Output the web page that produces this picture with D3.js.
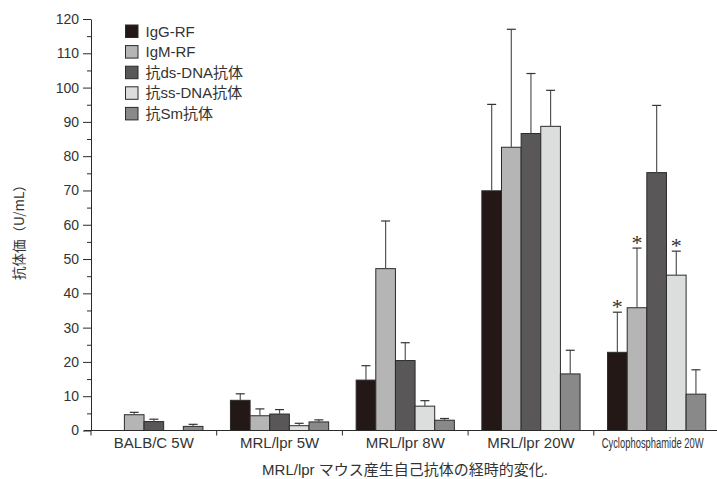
<!DOCTYPE html>
<html>
<head>
<meta charset="utf-8">
<script src="https://cdn.jsdelivr.net/npm/d3@7"></script>
<style>
  html, body { margin: 0; padding: 0; background: #fff; }
  svg { display: block; font-family: "Liberation Sans", Arial, "Noto Sans CJK JP", sans-serif; }
</style>
</head>
<body>
<svg id="chart" width="717" height="479"></svg>
<script>
// ---- data ----
const groups = ["BALB/C 5W", "MRL/lpr 5W", "MRL/lpr 8W", "MRL/lpr 20W", "Cyclophosphamide 20W"];
const series = ["IgG-RF", "IgM-RF", "抗ds-DNA抗体", "抗ss-DNA抗体", "抗Sm抗体"];
const igGRF   = [0,   8.8, 14.7, 69.9, 22.8];
const igGErr  = [0,   1.9,  4.2, 25.2, 11.7];
const igMRF   = [4.6, 4.3, 47.2, 82.6, 35.8];
const igMErr  = [0.7, 2.0, 13.9, 34.4, 17.4];
const dsDNA   = [2.6, 4.8, 20.4, 86.6, 75.2];
const dsErr   = [0.7, 1.3,  5.2, 17.5, 19.6];
const ssDNA   = [0,   1.4,  7.1, 88.7, 45.3];
const ssErr   = [0,   0.7,  1.6, 10.5,  7.0];
const smAb    = [1.2, 2.5,  3.0, 16.5, 10.6];
const smErr   = [0.6, 0.6,  0.5,  6.9,  7.1];
const yTicks  = [0, 10, 20, 30, 40, 50, 60, 70, 80, 90, 100, 110, 120];
// significance marks: [group index, series index]
const stars   = [[4, 0], [4, 1], [4, 3]];
const yLabel  = "抗体価（U/mL）";
const xTitle  = "MRL/lpr マウス産生自己抗体の経時的変化.";

const values = [igGRF, igMRF, dsDNA, ssDNA, smAb];
const errors = [igGErr, igMErr, dsErr, ssErr, smErr];
const colors = ["#231815", "#b5b5b6", "#595757", "#dcdddd", "#898989"];

const rows = [];
groups.forEach((g, gi) => series.forEach((s, si) => {
  rows.push({ g, gi, s, si, v: values[si][gi], e: errors[si][gi] });
}));

// ---- layout ----
const svg = d3.select("#chart");
svg.append("rect").attr("width", 717).attr("height", 479).attr("fill", "#fff");

const mLeft = 91, mRight = 719.5, mTop = 19, mBottom = 430.5;
const x0 = d3.scaleBand().domain(groups).range([mLeft, mRight]).padding(0);
const x1 = d3.scaleBand().domain(series).range([0, x0.bandwidth()]).paddingInner(0).paddingOuter(0.7);
const y = d3.scaleLinear().domain([0, 120]).range([mBottom, mTop]);

const ink = "#2b2b2b";

// bars
const gb = svg.append("g");
gb.selectAll("rect.bar").data(rows.filter(d => d.v > 0)).join("rect")
  .attr("class", "bar")
  .attr("x", d => x0(d.g) + x1(d.s))
  .attr("y", d => y(d.v))
  .attr("width", x1.bandwidth())
  .attr("height", d => y(0) - y(d.v))
  .attr("fill", d => colors[d.si])
  .attr("stroke", ink)
  .attr("stroke-width", 1);

// error bars
const eb = rows.filter(d => d.e > 0);
const cx = d => x0(d.g) + x1(d.s) + x1.bandwidth() / 2;
gb.selectAll("line.stem").data(eb).join("line")
  .attr("class", "stem")
  .attr("x1", cx).attr("x2", cx)
  .attr("y1", d => y(d.v)).attr("y2", d => y(d.v + d.e))
  .attr("stroke", "#555").attr("stroke-width", 1.2);
gb.selectAll("line.cap").data(eb).join("line")
  .attr("class", "cap")
  .attr("x1", d => cx(d) - 4.5).attr("x2", d => cx(d) + 4.5)
  .attr("y1", d => y(d.v + d.e)).attr("y2", d => y(d.v + d.e))
  .attr("stroke", "#333").attr("stroke-width", 1.2);

// asterisks
gb.selectAll("text.star").data(stars.map(([gi, si]) => rows.find(r => r.gi === gi && r.si === si))).join("text")
  .attr("class", "star")
  .attr("x", cx)
  .attr("y", d => y(d.v + d.e) + 2)
  .attr("text-anchor", "middle")
  .attr("font-family", "'Liberation Serif', serif")
  .attr("font-size", 22)
  .attr("fill", "#333")
  .text("*");

// y axis
const yAxis = d3.axisLeft(y).tickValues(yTicks).tickSize(8).tickSizeOuter(0).tickPadding(4);
const ya = svg.append("g").attr("transform", `translate(${mLeft},0)`).call(yAxis);
ya.select(".domain").attr("stroke", ink);
ya.selectAll(".tick line").attr("stroke", ink);
ya.selectAll(".tick text").attr("font-size", 14).attr("fill", "#333")
  .attr("font-family", "'Liberation Sans', Arial, sans-serif");
// minor ticks
const minor = d3.range(5, 120, 10);
const ym = svg.append("g").attr("transform", `translate(${mLeft},0)`)
  .call(d3.axisLeft(y).tickValues(minor).tickSize(4).tickFormat(""));
ym.select(".domain").remove();
ym.selectAll(".tick line").attr("stroke", ink);

// x axis
svg.append("line").attr("x1", mLeft - 7).attr("x2", 717).attr("y1", y(0)).attr("y2", y(0))
  .attr("stroke", ink).attr("stroke-width", 1);
svg.selectAll("line.xb").data(groups).join("line")
  .attr("class", "xb")
  .attr("x1", d => x0(d)).attr("x2", d => x0(d))
  .attr("y1", y(0)).attr("y2", y(0) + 5)
  .attr("stroke", ink);
const xa = svg.append("g").attr("transform", `translate(0,${y(0)})`)
  .call(d3.axisBottom(x0).tickSize(0).tickPadding(7));
xa.select(".domain").remove();
xa.selectAll(".tick text").attr("font-size", 15).attr("fill", "#333")
  .attr("font-family", "'Liberation Sans', Arial, sans-serif");
// condensed last label
xa.selectAll(".tick text").filter(d => d === "Cyclophosphamide 20W")
  .attr("font-size", 14.5)
  .each(function () {
    const t = d3.select(this);
    const w = this.getComputedTextLength();
    const k = 102 / w;
    const yy = +t.attr("y");
    t.attr("x", 0).attr("y", 0)
     .attr("dy", "0.71em")
     .attr("transform", `translate(-4,${yy}) scale(${k},1)`);
  });

// y label
svg.append("text")
  .attr("transform", "translate(24,229) rotate(-90)")
  .attr("text-anchor", "middle")
  .attr("font-size", 13.5)
  .attr("fill", "#333")
  .attr("font-family", "'Noto Sans CJK JP', sans-serif")
  .text(yLabel);

// x title
svg.append("text")
  .attr("x", 405).attr("y", 475)
  .attr("text-anchor", "middle")
  .attr("font-size", 15)
  .attr("fill", "#333")
  .attr("font-family", "'Liberation Sans', 'Noto Sans CJK JP', sans-serif")
  .text(xTitle);

// legend
const lg = svg.append("g").attr("transform", "translate(125.5,25)");
const li = lg.selectAll("g").data(series).join("g")
  .attr("transform", (d, i) => `translate(0,${i * 20.6})`);
li.append("rect").attr("width", 12.5).attr("height", 12.5)
  .attr("fill", (d, i) => colors[i]).attr("stroke", ink).attr("stroke-width", 1);
li.append("text").attr("x", 20).attr("y", 11.5)
  .attr("font-size", 15).attr("fill", "#333")
  .attr("font-family", "'Liberation Sans', 'Noto Sans CJK JP', sans-serif")
  .text(d => d);
</script>
</body>
</html>
